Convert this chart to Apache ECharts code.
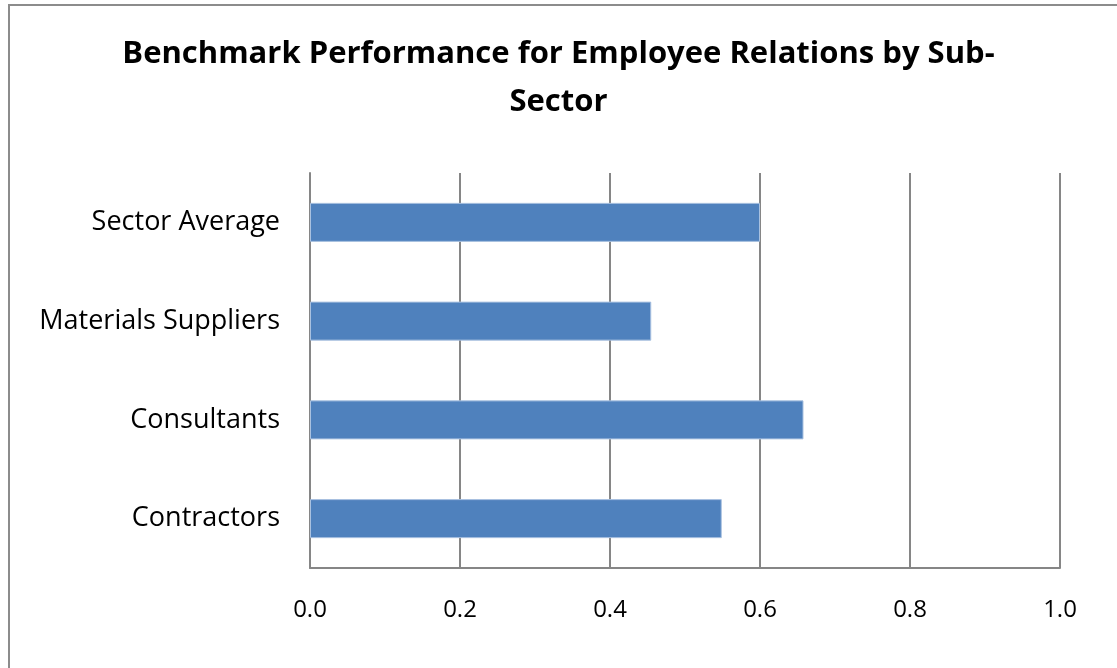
<!DOCTYPE html>
<html>
<head>
<meta charset="utf-8">
<script src="https://cdn.jsdelivr.net/npm/echarts@6/dist/echarts.min.js"></script>
<style>
  html, body { margin: 0; padding: 0; background: #fff; }
  #chart { width: 1117px; height: 668px; }
</style>
</head>
<body>
<div id="chart"></div>
<script>
// Sub-sectors, listed bottom to top as they appear on the category axis
const categories = ['Contractors', 'Consultants', 'Materials Suppliers', 'Sector Average'];
// Benchmark scores for employee relations
const scores = [0.549, 0.658, 0.455, 0.600];
// Value axis range and step
const axisMin = 0;
const axisMax = 1;
const axisStep = 0.2;

const FONT = '"Open Sans", Lato, sans-serif';
const GRID_COLOR = '#868686';

const chart = echarts.init(document.getElementById('chart'), null, { renderer: 'canvas' });

chart.setOption({
  backgroundColor: '#ffffff',
  animation: false,
  title: {
    text: 'Benchmark Performance for Employee Relations by Sub-\nSector',
    left: 'center',
    top: 25,
    textStyle: {
      fontFamily: FONT,
      fontWeight: 'bold',
      fontSize: 31,
      lineHeight: 48,
      color: '#000'
    }
  },
  graphic: [{
    type: 'rect',
    shape: { x: 9, y: 5, width: 1140, height: 700 },
    style: { fill: null, stroke: '#8c8c8c', lineWidth: 2 },
    silent: true,
    z: 100
  }],
  grid: {
    left: 310,
    right: 57,
    top: 173,
    bottom: 100,
    containLabel: false
  },
  xAxis: {
    type: 'value',
    min: axisMin,
    max: axisMax,
    interval: axisStep,
    axisLine: { show: true, lineStyle: { color: GRID_COLOR, width: 2 } },
    axisTick: { show: false },
    splitLine: { show: true, lineStyle: { color: GRID_COLOR, width: 2 } },
    axisLabel: {
      margin: 30,
      fontFamily: FONT,
      fontSize: 24,
      color: '#000',
      formatter: v => v.toFixed(1)
    }
  },
  yAxis: {
    type: 'category',
    data: categories,
    axisLine: { show: true, lineStyle: { color: GRID_COLOR, width: 2 } },
    axisTick: { show: false },
    splitLine: { show: false },
    axisLabel: {
      margin: 30,
      fontFamily: FONT,
      fontSize: 27,
      color: '#000'
    }
  },
  series: [{
    type: 'bar',
    data: scores,
    barWidth: '39.5%',
    itemStyle: {
      color: '#4f81bd',
      borderColor: '#a9c1e0',
      borderWidth: 1
    }
  }]
});
</script>
</body>
</html>
